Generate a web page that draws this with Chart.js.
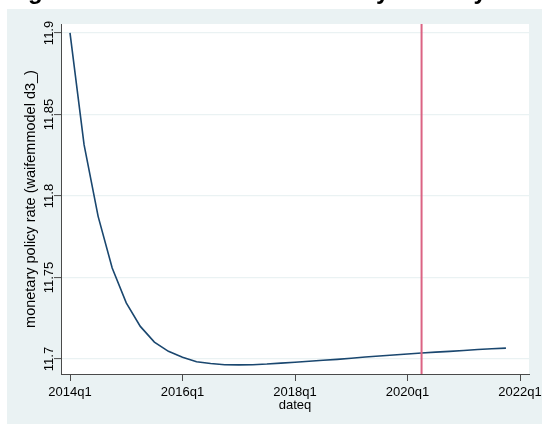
<!DOCTYPE html>
<html>
<head>
<meta charset="utf-8">
<script src="https://cdn.jsdelivr.net/npm/chart.js@4.4.1/dist/chart.umd.min.js"></script>
<style>
  html, body { margin: 0; padding: 0; background: #ffffff; }
  #wrap { width: 542px; height: 424px; }
</style>
</head>
<body>
<div id="wrap"><canvas id="chart" width="542" height="424"></canvas></div>
<script>
// Quarterly path of the monetary policy rate, 2014q1 to 2021q4
const quarters = [
  '2014q1','2014q2','2014q3','2014q4','2015q1','2015q2','2015q3','2015q4',
  '2016q1','2016q2','2016q3','2016q4','2017q1','2017q2','2017q3','2017q4',
  '2018q1','2018q2','2018q3','2018q4','2019q1','2019q2','2019q3','2019q4',
  '2020q1','2020q2','2020q3','2020q4','2021q1','2021q2','2021q3','2021q4'
];
const policyRate = [
  11.9000, 11.8315, 11.7875, 11.7558, 11.7344, 11.7200, 11.7104, 11.7047,
  11.7011, 11.6983, 11.6972, 11.6965, 11.6964, 11.6965, 11.6969, 11.6975,
  11.6980, 11.6986, 11.6992, 11.6998, 11.7005, 11.7012, 11.7018, 11.7025,
  11.7031, 11.7037, 11.7042, 11.7047, 11.7052, 11.7058, 11.7063, 11.7067
];
const xTickQuarters = ['2014q1', '2016q1', '2018q1', '2020q1', '2022q1'];
const yTickValues = [11.7, 11.75, 11.8, 11.85, 11.9];
const yTickLabels = ['11.7', '11.75', '11.8', '11.85', '11.9'];
const markerQuarter = '2020q2';

const titleText = 'Long-run base rate under monetary stability';
const yTitle = 'monetary policy rate (waifemmodel d3_)';
const xTitle = 'dateq';

// quarter label -> index counted from 2014q1
function qIndex(q) {
  const y = parseInt(q.slice(0, 4), 10);
  const n = parseInt(q.slice(5), 10);
  return (y - 2014) * 4 + (n - 1);
}

const points = quarters.map((q, i) => ({ x: qIndex(q), y: policyRate[i] }));
const xTickIdx = xTickQuarters.map(qIndex);

const FONT = '"Liberation Sans", Arial, Helvetica, sans-serif';
const PANEL = '#eaf2f3';
const AXIS = '#4a4a4a';

const decor = {
  id: 'decor',
  beforeDraw(chart) {
    const { ctx, chartArea: a } = chart;
    ctx.save();
    ctx.fillStyle = '#ffffff';
    ctx.fillRect(0, 0, chart.width, chart.height);
    ctx.fillStyle = PANEL;
    ctx.fillRect(7, 9, chart.width - 7, chart.height - 9);
    ctx.fillStyle = '#ffffff';
    ctx.fillRect(a.left, a.top, a.right - a.left, a.bottom - a.top);
    ctx.restore();
  },
  afterDatasetsDraw(chart) {
    const { ctx, chartArea: a, scales } = chart;
    const px = scales.x.getPixelForValue(qIndex(markerQuarter));
    ctx.save();
    ctx.strokeStyle = '#db6383';
    ctx.lineWidth = 2;
    ctx.beginPath();
    ctx.moveTo(px, a.top);
    ctx.lineTo(px, a.bottom);
    ctx.stroke();
    ctx.restore();
  },
  afterDraw(chart) {
    const { ctx, chartArea: a, scales } = chart;
    ctx.save();
    ctx.fillStyle = '#000000';

    // title (runs off the top edge)
    ctx.font = 'bold 24px ' + FONT;
    ctx.textAlign = 'left';
    ctx.textBaseline = 'alphabetic';
    const tx = 28 - ctx.measureText('Lon').width;
    ctx.fillText(titleText, tx, -1);

    // y tick labels, turned upright
    ctx.font = '13px ' + FONT;
    ctx.textAlign = 'center';
    ctx.textBaseline = 'middle';
    yTickValues.forEach((v, i) => {
      const py = scales.y.getPixelForValue(v);
      ctx.save();
      ctx.translate(49, py);
      ctx.rotate(-Math.PI / 2);
      ctx.fillText(yTickLabels[i], 0, 0);
      ctx.restore();
    });

    // y axis title
    ctx.font = '14.5px ' + FONT;
    ctx.save();
    ctx.translate(31, (a.top + a.bottom) / 2);
    ctx.rotate(-Math.PI / 2);
    ctx.fillText(yTitle, 0, 0);
    ctx.restore();

    // x tick labels
    ctx.font = '13px ' + FONT;
    ctx.textBaseline = 'alphabetic';
    xTickIdx.forEach((v, i) => {
      const px = scales.x.getPixelForValue(v);
      ctx.fillText(xTickQuarters[i], px, 396);
    });

    // x axis title
    ctx.fillText(xTitle, (a.left + a.right) / 2, 409);
    ctx.restore();
  }
};

new Chart(document.getElementById('chart'), {
  type: 'line',
  data: {
    datasets: [{
      data: points,
      borderColor: '#1a476f',
      borderWidth: 1.6,
      pointRadius: 0,
      tension: 0,
      fill: false
    }]
  },
  options: {
    responsive: false,
    animation: false,
    devicePixelRatio: 1,
    layout: { padding: { top: 24, right: 13, left: 0, bottom: 0 } },
    plugins: { legend: { display: false }, tooltip: { enabled: false }, title: { display: false } },
    scales: {
      x: {
        type: 'linear',
        min: -0.64,
        max: 32.64,
        afterBuildTicks: (s) => { s.ticks = xTickIdx.map(v => ({ value: v })); },
        afterFit: (s) => { s.height = 50; s.paddingLeft = 0; s.paddingRight = 0; },
        ticks: { display: false },
        grid: { drawOnChartArea: false, drawTicks: true, tickLength: 7, tickColor: AXIS, tickWidth: 1 },
        border: { display: true, color: AXIS, width: 1 }
      },
      y: {
        type: 'linear',
        min: 11.6908,
        max: 11.9055,
        afterBuildTicks: (s) => { s.ticks = yTickValues.map(v => ({ value: v })); },
        afterFit: (s) => { s.width = 61; s.paddingTop = 0; s.paddingBottom = 0; },
        ticks: { display: false },
        grid: { color: PANEL, lineWidth: 1.2, drawTicks: true, tickLength: 7, tickColor: AXIS, tickWidth: 1 },
        border: { display: true, color: AXIS, width: 1 }
      }
    }
  },
  plugins: [decor]
});
</script>
</body>
</html>
